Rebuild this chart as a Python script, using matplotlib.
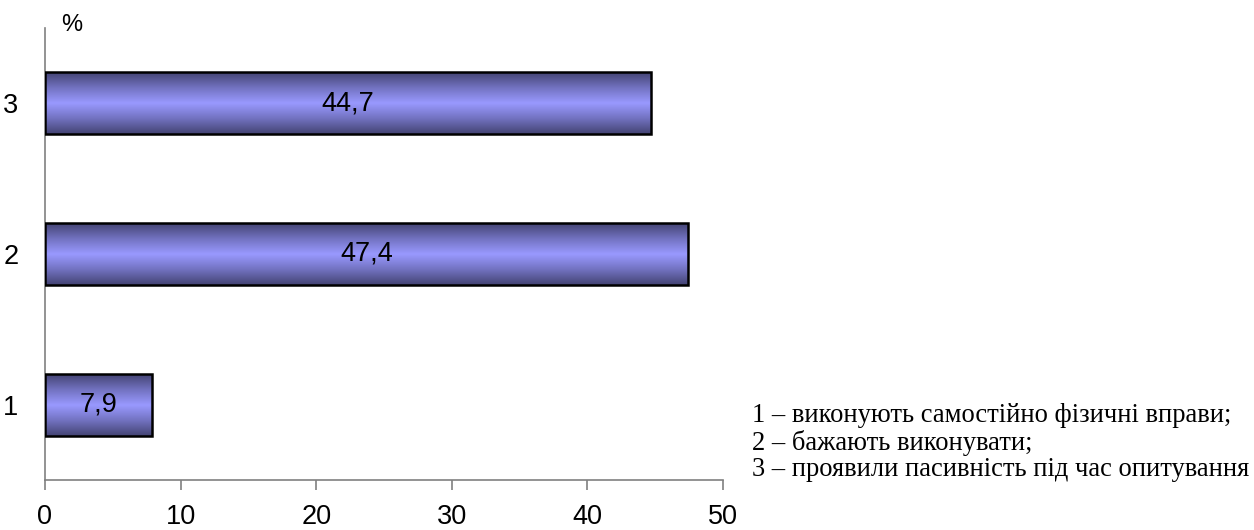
import matplotlib
matplotlib.use("Agg")
import matplotlib.pyplot as plt
import numpy as np
from matplotlib.colors import LinearSegmentedColormap

categories = ["1", "2", "3"]
values = [7.9, 47.4, 44.7]
value_labels = ["7,9", "47,4", "44,7"]
xticks = [0, 10, 20, 30, 40, 50]
legend_lines = ["1 – виконують самостійно фізичні вправи;",
                "2 – бажають виконувати;",
                "3 – проявили пасивність під час опитування"]

fig = plt.figure(figsize=(12.54, 5.30), dpi=100)
ax = fig.add_axes([45/1254, 50/530, (723-45)/1254, (480-28)/530])

ypos = np.arange(1, len(categories) + 1)
h = 0.41
bars = ax.barh(ypos, values, height=h, color="none", edgecolor="black", linewidth=1.8, zorder=3)

cmap = LinearSegmentedColormap.from_list("g", ["#434373", "#7272c0", "#9999ff", "#7272c0", "#434373"])
grad = np.linspace(0, 1, 256).reshape(-1, 1)
for b in bars:
    x0, y0 = b.get_x(), b.get_y()
    w, hh = b.get_width(), b.get_height()
    im = ax.imshow(grad, cmap=cmap, aspect="auto", extent=[x0, x0 + w, y0, y0 + hh],
                   origin="lower", zorder=2, interpolation="bilinear")
    im.set_clip_path(b)

fs = 19.5
for yv, v, lab in zip(ypos, values, value_labels):
    ax.text(v / 2, yv, lab, ha="center", va="center", fontsize=fs,
            family="Liberation Sans", zorder=4)

ax.set_xlim(0, 50)
ax.set_ylim(0.5, 3.5)
ax.set_xticks(xticks)
ax.set_xticklabels([str(t) for t in xticks], fontsize=fs, family="Liberation Sans")
ax.set_yticks(ypos)
ax.set_yticklabels(categories, fontsize=fs, family="Liberation Sans")
ax.tick_params(axis="x", direction="out", length=7, width=1.2, color="#808080", pad=10)
ax.tick_params(axis="y", length=0, pad=19)
for s in ["top", "right"]:
    ax.spines[s].set_visible(False)
for s in ["left", "bottom"]:
    ax.spines[s].set_color("#808080")
    ax.spines[s].set_linewidth(1.2)

fig.text(72/1254, 1 - 25/530, "%", fontsize=17, family="Liberation Sans", ha="center", va="center")

ly = [416, 443, 469]
for yy, t in zip(ly, legend_lines):
    fig.text(752/1254, 1 - yy/530, t, fontsize=19.1, family="Liberation Serif", ha="left", va="center")

fig.savefig("out.png", dpi=100)
